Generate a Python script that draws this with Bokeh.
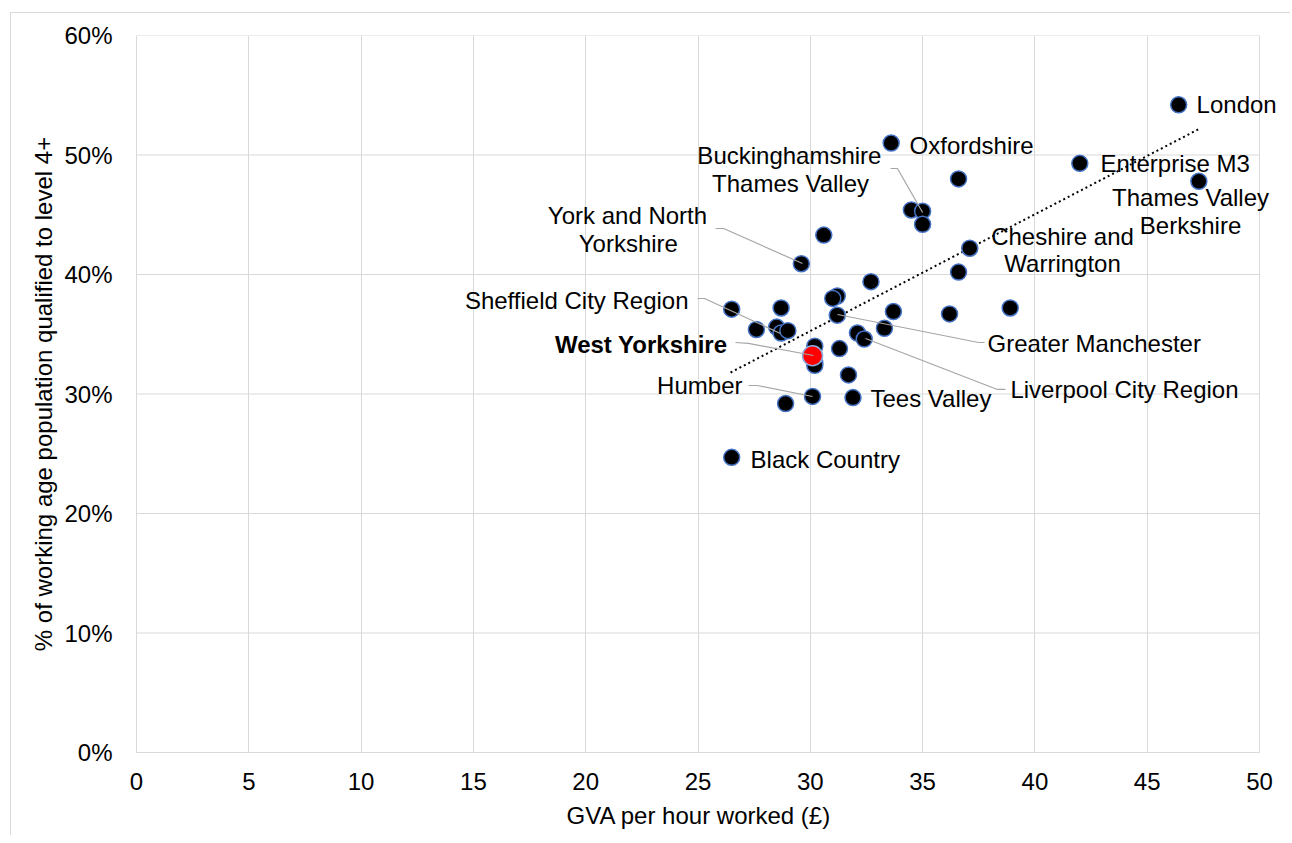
from bokeh.plotting import figure
from bokeh.models import Range1d, FixedTicker, NumeralTickFormatter, Title
from bokeh.core.properties import value
from bokeh.embed import file_html
from bokeh.resources import INLINE

# ---- data: GVA per hour worked (£) and share qualified to level 4+ for each LEP
gva = [46.4, 42.0, 47.3, 33.6, 36.6, 34.5, 35.0, 35.0, 30.6, 29.6,
       37.1, 36.6, 32.7, 31.2, 31.0, 28.7, 26.5, 33.7, 36.2, 38.9,
       31.2, 27.6, 28.5, 28.7, 29.0, 30.2, 30.2, 30.2, 31.3, 32.1,
       32.4, 33.3, 31.7, 30.1, 31.9, 28.9, 26.5]
level4 = [0.542, 0.493, 0.478, 0.510, 0.480, 0.454, 0.453, 0.442, 0.433, 0.409,
          0.422, 0.402, 0.394, 0.382, 0.380, 0.372, 0.371, 0.369, 0.367, 0.372,
          0.366, 0.354, 0.356, 0.351, 0.353, 0.340, 0.326, 0.324, 0.338, 0.351,
          0.346, 0.355, 0.316, 0.298, 0.297, 0.292, 0.247]

# highlighted LEP
wy_gva = [30.1]
wy_level4 = [0.332]

# linear trend line end points
trend_x = [26.45, 47.33]
trend_y = [0.318, 0.522]

x_ticks = [0, 5, 10, 15, 20, 25, 30, 35, 40, 45, 50]
y_ticks = [0.0, 0.1, 0.2, 0.3, 0.4, 0.5, 0.6]

x_title = "GVA per hour worked (£)"
y_title = "% of working age population qualified to level 4+"

# labels (text lines)
labels_left = ["London", "Oxfordshire", "Enterprise M3", "Greater Manchester",
               "Liverpool City Region", "Tees Valley", "Black Country"]
labels_center = ["Buckinghamshire", "Thames Valley", "Thames Valley", "Berkshire",
                 "York and North", "Yorkshire", "Cheshire and", "Warrington"]
labels_right = ["Sheffield City Region", "Humber"]
label_bold = ["West Yorkshire"]

# ---- label placement (layout, not data)
left_pos_x = [47.2, 34.42, 42.92, 37.89, 38.91, 32.68, 27.34]
left_pos_y = [0.542, 0.508, 0.493, 0.3423, 0.3038, 0.296, 0.245]
center_pos_x = [29.07, 29.12, 46.93, 46.93, 21.86, 21.9, 41.23, 41.23]
center_pos_y = [0.4996, 0.476, 0.4644, 0.441, 0.4494, 0.426, 0.4318, 0.4092]
right_pos_x = [24.58, 26.98]
right_pos_y = [0.378, 0.307]
bold_pos_x = [26.31]
bold_pos_y = [0.3414]

leader_xs = [[33.57, 33.88, 35.0], [25.78, 26.14, 29.65], [24.98, 25.29, 28.67],
             [26.67, 27.25, 30.14], [27.25, 27.65, 30.1], [31.21, 37.49, 37.76],
             [32.46, 38.33, 38.69]]
leader_ys = [[0.4887, 0.4887, 0.4519], [0.4385, 0.4385, 0.4092], [0.3799, 0.3799, 0.3506],
             [0.3431, 0.3423, 0.3322], [0.3071, 0.3071, 0.2979], [0.3665, 0.3431, 0.3431],
             [0.3464, 0.3038, 0.3038]]

X_MAX = x_ticks[-1]
X_PAD = 1.024  # extra room at right so labels are not clipped

FONT = value("Liberation Sans")

p = figure(frame_width=1146, frame_height=717,
           x_range=Range1d(0, X_MAX + X_PAD), y_range=Range1d(0, 0.6),
           output_backend="svg", toolbar_location=None,
           min_border_left=125, min_border_top=22, min_border_right=8, min_border_bottom=0)

p.styles = {"border-left": "1px solid #d9d9d9", "border-top": "1px solid #d9d9d9",
            "margin-left": "10px", "margin-top": "12px"}
p.background_fill_color = "white"
p.border_fill_color = "white"
p.outline_line_color = None

p.xaxis.ticker = FixedTicker(ticks=x_ticks)
p.yaxis.ticker = FixedTicker(ticks=y_ticks)
p.yaxis.formatter = NumeralTickFormatter(format="0%")
p.xaxis.bounds = (0, X_MAX)
for ax in (p.xaxis, p.yaxis):
    ax.axis_line_color = "#d9d9d9"
    ax.major_tick_line_color = None
    ax.minor_tick_line_color = None
    ax.major_label_text_font = "Liberation Sans"
    ax.major_label_text_font_size = "24px"
    ax.major_label_text_color = "#000000"
    ax.axis_label_text_font = "Liberation Sans"
    ax.axis_label_text_font_size = "24px"
    ax.axis_label_text_font_style = "normal"
    ax.axis_label_text_color = "#000000"
p.xaxis.major_label_standoff = 14
p.yaxis.major_label_standoff = 18
p.yaxis.axis_label = y_title
p.yaxis.axis_label_standoff = 4

# x-axis title as a below-title so it can be centred on the 0..50 span
xt = Title(text=x_title, align="left", offset=430, standoff=14,
           text_font="Liberation Sans", text_font_size="24px", text_font_style="normal",
           text_color="#000000")
p.add_layout(xt, "below")

p.xgrid.grid_line_color = "#d9d9d9"
p.ygrid.grid_line_color = None
# horizontal gridlines limited to the 0..50 span
p.segment(x0=[0] * len(y_ticks), y0=y_ticks, x1=[X_MAX] * len(y_ticks), y1=y_ticks,
          line_color="#d9d9d9", line_width=1)

# trend line
p.line(trend_x, trend_y, line_color="black", line_width=2, line_dash="2 3")

# points
p.scatter(gva, level4, size=16, fill_color="black", line_color="#4472c4", line_width=1.5)
p.scatter(wy_gva, wy_level4, size=20, fill_color="#ff0000", line_color="#8faadc", line_width=1.5)

# leader lines
p.multi_line(leader_xs, leader_ys, line_color="#a6a6a6", line_width=1.2)

# labels
p.text(left_pos_x, left_pos_y, text=labels_left, text_font=FONT, text_font_size="24px",
       text_align="left", text_baseline="middle", text_color="#000000")
p.text(center_pos_x, center_pos_y, text=labels_center, text_font=FONT, text_font_size="24px",
       text_align="center", text_baseline="middle", text_color="#000000")
p.text(right_pos_x, right_pos_y, text=labels_right, text_font=FONT, text_font_size="24px",
       text_align="right", text_baseline="middle", text_color="#000000")
p.text(bold_pos_x, bold_pos_y, text=label_bold, text_font=FONT, text_font_size="24px",
       text_font_style="bold", text_align="right", text_baseline="middle", text_color="#000000")

open("out.html", "w").write(file_html(p, INLINE))
